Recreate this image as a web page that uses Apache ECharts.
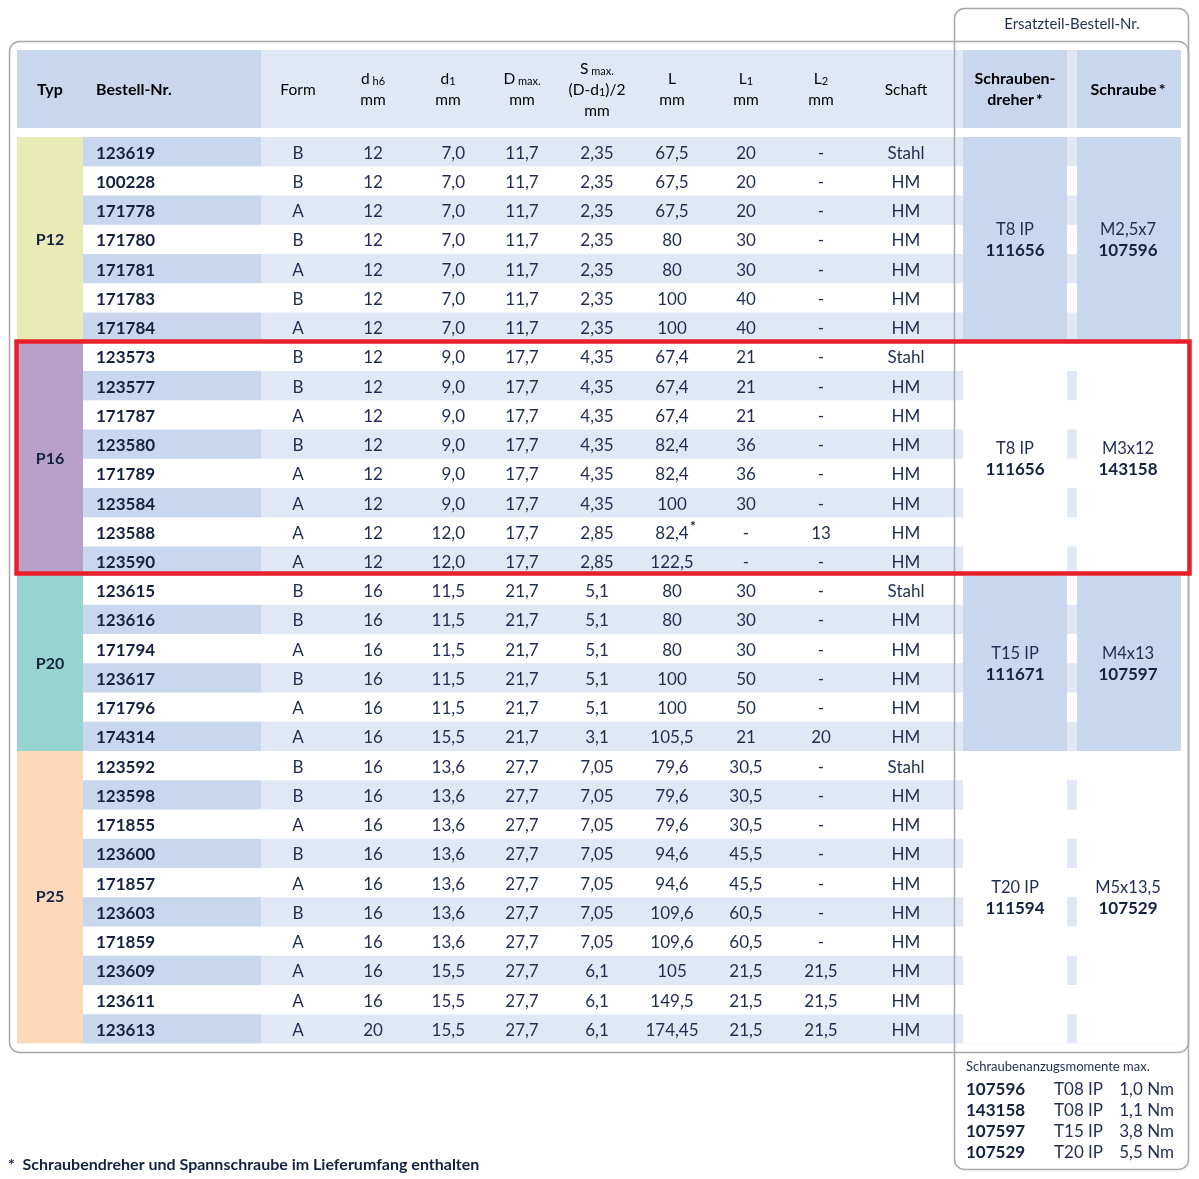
<!DOCTYPE html>
<html>
<head>
<meta charset="utf-8">
<title>Ersatzteil-Bestell-Nr.</title>
<script src="https://cdn.jsdelivr.net/npm/echarts@6/dist/echarts.min.js"></script>
<style>
  html, body { margin: 0; padding: 0; background: #fff; }
  #main { width: 1199px; height: 1179px; }
</style>
</head>
<body>
<div id="main"></div>
<script>
// ---- table data (one entry per row) ----
const bestellNr = ["123619", "100228", "171778", "171780", "171781", "171783", "171784",
  "123573", "123577", "171787", "123580", "171789", "123584", "123588", "123590",
  "123615", "123616", "171794", "123617", "171796", "174314",
  "123592", "123598", "171855", "123600", "171857", "123603", "171859", "123609", "123611", "123613"];
const form = ["B", "B", "A", "B", "A", "B", "A",
  "B", "B", "A", "B", "A", "A", "A", "A",
  "B", "B", "A", "B", "A", "A",
  "B", "B", "A", "B", "A", "B", "A", "A", "A", "A"];
const dh6 = ["12", "12", "12", "12", "12", "12", "12",
  "12", "12", "12", "12", "12", "12", "12", "12",
  "16", "16", "16", "16", "16", "16",
  "16", "16", "16", "16", "16", "16", "16", "16", "16", "20"];
const d1 = ["7,0", "7,0", "7,0", "7,0", "7,0", "7,0", "7,0",
  "9,0", "9,0", "9,0", "9,0", "9,0", "9,0", "12,0", "12,0",
  "11,5", "11,5", "11,5", "11,5", "11,5", "15,5",
  "13,6", "13,6", "13,6", "13,6", "13,6", "13,6", "13,6", "15,5", "15,5", "15,5"];
const dMax = ["11,7", "11,7", "11,7", "11,7", "11,7", "11,7", "11,7",
  "17,7", "17,7", "17,7", "17,7", "17,7", "17,7", "17,7", "17,7",
  "21,7", "21,7", "21,7", "21,7", "21,7", "21,7",
  "27,7", "27,7", "27,7", "27,7", "27,7", "27,7", "27,7", "27,7", "27,7", "27,7"];
const sMax = ["2,35", "2,35", "2,35", "2,35", "2,35", "2,35", "2,35",
  "4,35", "4,35", "4,35", "4,35", "4,35", "4,35", "2,85", "2,85",
  "5,1", "5,1", "5,1", "5,1", "5,1", "3,1",
  "7,05", "7,05", "7,05", "7,05", "7,05", "7,05", "7,05", "6,1", "6,1", "6,1"];
const lenL = ["67,5", "67,5", "67,5", "80", "80", "100", "100",
  "67,4", "67,4", "67,4", "82,4", "82,4", "100", "82,4*", "122,5",
  "80", "80", "80", "100", "100", "105,5",
  "79,6", "79,6", "79,6", "94,6", "94,6", "109,6", "109,6", "105", "149,5", "174,45"];
const lenL1 = ["20", "20", "20", "30", "30", "40", "40",
  "21", "21", "21", "36", "36", "30", "-", "-",
  "30", "30", "30", "50", "50", "21",
  "30,5", "30,5", "30,5", "45,5", "45,5", "60,5", "60,5", "21,5", "21,5", "21,5"];
const lenL2 = ["-", "-", "-", "-", "-", "-", "-",
  "-", "-", "-", "-", "-", "-", "13", "-",
  "-", "-", "-", "-", "-", "20",
  "-", "-", "-", "-", "-", "-", "-", "21,5", "21,5", "21,5"];
const schaft = ["Stahl", "HM", "HM", "HM", "HM", "HM", "HM",
  "Stahl", "HM", "HM", "HM", "HM", "HM", "HM", "HM",
  "Stahl", "HM", "HM", "HM", "HM", "HM",
  "Stahl", "HM", "HM", "HM", "HM", "HM", "HM", "HM", "HM", "HM"];

// ---- groups (Typ) ----
const typ = ["P12", "P16", "P20", "P25"];
const typRows = [7, 8, 6, 10];
const driver = ["T8 IP", "T8 IP", "T15 IP", "T20 IP"];
const driverNr = ["111656", "111656", "111671", "111594"];
const screw = ["M2,5x7", "M3x12", "M4x13", "M5x13,5"];
const screwNr = ["107596", "143158", "107597", "107529"];

// ---- torque table ----
const torqueScrew = ["107596", "143158", "107597", "107529"];
const torqueDriver = ["T08 IP", "T08 IP", "T15 IP", "T20 IP"];
const torqueValue = ["1,0 Nm", "1,1 Nm", "3,8 Nm", "5,5 Nm"];

const DARK = "#c8d6ee";
const LIGHT = "#e1e8f5";
const TEXT = "#1f2d50";
const BOLD = "#14223f";
const FONT = "Lato, 'Open Sans', sans-serif";
const typColors = ["#e8ebb5", "#b9a0cb", "#98d4cf", "#fdd9bc"];

// column layout in x-axis units (axis spans the page width)
const cols = [
  { vals: bestellNr, x: 96, align: "left", bold: true },
  { vals: form, x: 298 },
  { vals: dh6, x: 373 },
  { vals: d1, x: 465, align: "right" },
  { vals: dMax, x: 522 },
  { vals: sMax, x: 597 },
  { vals: lenL, x: 672 },
  { vals: lenL1, x: 746 },
  { vals: lenL2, x: 821 },
  { vals: schaft, x: 906 }
];

const groupStart = [];
typRows.reduce((acc, n) => { groupStart.push(acc); return acc + n; }, 0);

function txt(x, y, text, opts) {
  opts = opts || {};
  return {
    type: "text",
    x: x,
    y: y,
    style: {
      text: text,
      textAlign: opts.align || "center",
      textVerticalAlign: "middle",
      font: (opts.bold ? "bold " : "") + (opts.size || 17) + "px " + FONT,
      fill: opts.bold ? BOLD : TEXT
    }
  };
}

function renderRow(params, api) {
  const i = params.dataIndex;
  const cy = api.coord([0, i])[1];
  const h = api.size([0, 1])[1];
  const top = cy - h / 2;
  const px = v => api.coord([v, i])[0];
  const children = [];
  if (i % 2 === 0) {
    children.push({ type: "rect", shape: { x: px(83), y: top, width: px(261) - px(83), height: h }, style: { fill: DARK } });
    children.push({ type: "rect", shape: { x: px(261), y: top, width: px(1181) - px(261), height: h }, style: { fill: LIGHT } });
  }
  cols.forEach(col => {
    let v = col.vals[i];
    const star = v.endsWith("*");
    if (star) v = v.slice(0, -1);
    children.push(txt(px(col.x), cy + 1.5, v, { align: col.align, bold: col.bold }));
    if (star) {
      children.push(txt(px(col.x) + 21, cy - 5, "*", { bold: true, size: 14 }));
    }
  });
  return { type: "group", children: children };
}

function renderGroup(params, api) {
  const k = params.dataIndex;
  const s = groupStart[k];
  const e = s + typRows[k] - 1;
  const h = api.size([0, 1])[1];
  const top = api.coord([0, s])[1] - h / 2;
  const bottom = api.coord([0, e])[1] + h / 2;
  const mid = (top + bottom) / 2;
  const px = v => api.coord([v, s])[0];
  const blockFill = k % 2 === 0 ? DARK : "#fff";
  const children = [
    { type: "rect", shape: { x: px(17), y: top, width: px(83) - px(17), height: bottom - top }, style: { fill: typColors[k] } },
    txt(px(50), mid, typ[k], { bold: true, size: 16 }),
    { type: "rect", shape: { x: px(963), y: top, width: px(1067) - px(963), height: bottom - top }, style: { fill: blockFill } },
    { type: "rect", shape: { x: px(1077), y: top, width: px(1181) - px(1077), height: bottom - top }, style: { fill: blockFill } }
  ];
  children.push(txt(px(1015), mid - 10, driver[k], { size: 16.5 }));
  children.push(txt(px(1015), mid + 11, driverNr[k], { bold: true, size: 17 }));
  children.push(txt(px(1128), mid - 10, screw[k], { size: 16.5 }));
  children.push(txt(px(1128), mid + 11, screwNr[k], { bold: true, size: 17 }));
  return { type: "group", children: children };
}

function renderTorque(params, api) {
  const i = params.dataIndex;
  const cy = api.coord([0, i])[1];
  const px = v => api.coord([v, i])[0];
  return {
    type: "group",
    children: [
      txt(px(966), cy, torqueScrew[i], { align: "left", bold: true }),
      txt(px(1054), cy, torqueDriver[i], { align: "left" }),
      txt(px(1174), cy, torqueValue[i], { align: "right" })
    ]
  };
}

// header
const rich = {
  n: { fontSize: 15.5, fontFamily: FONT, color: TEXT, lineHeight: 21, verticalAlign: "bottom" },
  s: { fontSize: 11, fontFamily: FONT, color: TEXT, lineHeight: 17, verticalAlign: "bottom" },
  b: { fontSize: 16, fontWeight: "bold", fontFamily: FONT, color: BOLD, lineHeight: 21, verticalAlign: "bottom" }
};
const headers = [
  { x: 50, text: "{b|Typ}" },
  { x: 96, text: "{b|Bestell-Nr.}", align: "left" },
  { x: 298, text: "{n|Form}" },
  { x: 373, text: "{n|d}{s| h6}\n{n|mm}" },
  { x: 448, text: "{n|d}{s|1}\n{n|mm}" },
  { x: 522, text: "{n|D}{s| max.}\n{n|mm}" },
  { x: 597, text: "{n|S}{s| max.}\n{n|(D-d}{s|1}{n|)/2}\n{n|mm}" },
  { x: 672, text: "{n|L}\n{n|mm}" },
  { x: 746, text: "{n|L}{s|1}\n{n|mm}" },
  { x: 821, text: "{n|L}{s|2}\n{n|mm}" },
  { x: 906, text: "{n|Schaft}" },
  { x: 1015, text: "{b|Schrauben-}\n{b|dreher\u2009*}" },
  { x: 1128, text: "{b|Schraube\u2009*}" }
];

const graphic = [
  { type: "rect", shape: { x: 17, y: 50, width: 244, height: 78 }, style: { fill: DARK } },
  { type: "rect", shape: { x: 261, y: 50, width: 920, height: 78 }, style: { fill: LIGHT } },
  { type: "rect", shape: { x: 963, y: 50, width: 104, height: 78 }, style: { fill: DARK } },
  { type: "rect", shape: { x: 1077, y: 50, width: 104, height: 78 }, style: { fill: DARK } }
];
headers.forEach(hd => {
  graphic.push({
    type: "text",
    x: hd.x,
    y: 87,
    style: { text: hd.text, rich: rich, textAlign: hd.align || "center", textVerticalAlign: "middle" }
  });
});
graphic.push(
  { type: "text", x: 1072, y: 24, style: { text: "Ersatzteil-Bestell-Nr.", textAlign: "center", textVerticalAlign: "middle", font: "15px " + FONT, fill: TEXT } },
  { type: "text", x: 966, y: 1067, style: { text: "Schraubenanzugsmomente max.", textAlign: "left", textVerticalAlign: "middle", font: "13px " + FONT, fill: TEXT } },
  { type: "text", x: 8, y: 1165, style: { text: "*  Schraubendreher und Spannschraube im Lieferumfang enthalten", textAlign: "left", textVerticalAlign: "middle", font: "bold 16px " + FONT, fill: BOLD } },
  { type: "rect", z: 100, shape: { x: 9.5, y: 41.5, width: 1179, height: 1011, r: 10 }, style: { fill: "none", stroke: "#a9a9a9", lineWidth: 1.5 } },
  { type: "rect", z: 100, shape: { x: 954.5, y: 8.5, width: 234, height: 1161, r: 10 }, style: { fill: "none", stroke: "#a9a9a9", lineWidth: 1.5 } },
  { type: "rect", z: 101, shape: { x: 16.5, y: 341.5, width: 1173, height: 232 }, style: { fill: "none", stroke: "#e8202a", lineWidth: 4.5 } }
);

const chart = echarts.init(document.getElementById("main"), null, { renderer: "canvas" });
chart.setOption({
  backgroundColor: "#fff",
  animation: false,
  grid: [
    { left: 0, right: 0, top: 137, bottom: 1179 - 1043.5 },
    { left: 0, right: 0, top: 1079.5, bottom: 1179 - 1162.5 }
  ],
  xAxis: [
    { type: "value", min: 0, max: 1199, show: false, gridIndex: 0 },
    { type: "value", min: 0, max: 1199, show: false, gridIndex: 1 }
  ],
  yAxis: [
    { type: "category", data: bestellNr, inverse: true, show: false, gridIndex: 0 },
    { type: "category", data: torqueScrew, inverse: true, show: false, gridIndex: 1 }
  ],
  graphic: graphic,
  series: [
    {
      type: "custom",
      name: "rows",
      xAxisIndex: 0,
      yAxisIndex: 0,
      z: 2,
      renderItem: renderRow,
      data: bestellNr.map((n, i) => [0, i])
    },
    {
      type: "custom",
      name: "groups",
      xAxisIndex: 0,
      yAxisIndex: 0,
      z: 3,
      renderItem: renderGroup,
      data: typ.map((t, k) => [0, groupStart[k]])
    },
    {
      type: "custom",
      name: "torque",
      xAxisIndex: 1,
      yAxisIndex: 1,
      renderItem: renderTorque,
      data: torqueScrew.map((n, i) => [0, i])
    }
  ]
});
</script>
</body>
</html>
